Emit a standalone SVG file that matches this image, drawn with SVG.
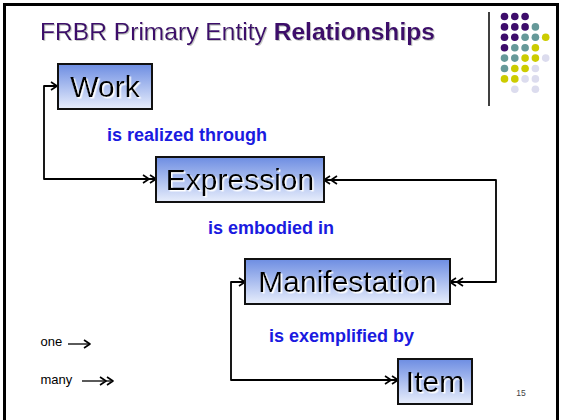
<svg xmlns="http://www.w3.org/2000/svg" width="561" height="420" viewBox="0 0 561 420">
<style>
.node rect{fill:url(#g);stroke:#111;stroke-width:2}
.node text{font-family:"Liberation Sans",Arial,sans-serif;font-size:30px;fill:#000;text-anchor:middle;filter:url(#ws)}
.lbl{font-family:"Liberation Sans",Arial,sans-serif;font-size:18px;font-weight:bold;fill:#1a1ae0}
.conn path{fill:none;stroke:#000;stroke-width:1.8;stroke-linejoin:round}
.conn path.lg{stroke-width:1.3}
.leg{font-family:"Liberation Sans",Arial,sans-serif;font-size:13px;fill:#000}
.p{fill:#3d0c6b}.t{fill:#669999}.y{fill:#cccc00}.l{fill:#dcdcee}
</style>
<defs>
<linearGradient id="g" x1="0" y1="0" x2="0" y2="1">
<stop offset="0" stop-color="#6d8de2"/>
<stop offset="1" stop-color="#e8eefc"/>
</linearGradient>
<filter id="ws" x="-10%" y="-10%" width="130%" height="130%">
<feDropShadow dx="1.5" dy="1.5" stdDeviation="0.3" flood-color="#fff" flood-opacity="1"/>
</filter>
<filter id="ts" x="-5%" y="-10%" width="110%" height="130%">
<feDropShadow dx="1" dy="1" stdDeviation="0.4" flood-color="#bbb" flood-opacity="0.8"/>
</filter>
<marker id="one" markerUnits="userSpaceOnUse" markerWidth="16" markerHeight="12" viewBox="-14 -6 16 12" refX="0" refY="0" orient="auto-start-reverse" overflow="visible">
<path d="M-6,-4 L0,0 L-6,4" fill="none" stroke="#000" stroke-width="1.6" stroke-linejoin="round"/>
</marker>
<marker id="many" markerUnits="userSpaceOnUse" markerWidth="16" markerHeight="12" viewBox="-14 -6 16 12" refX="0" refY="0" orient="auto-start-reverse" overflow="visible">
<path d="M-6,-4 L0,0 L-6,4 M-13,-4 L-7,0 L-13,4" fill="none" stroke="#000" stroke-width="1.6" stroke-linejoin="round"/>
</marker>
</defs>
<rect x="0" y="0" width="561" height="420" fill="#fff"/>
<rect x="4.5" y="4.5" width="553" height="430" fill="none" stroke="#000" stroke-width="3"/>
<text x="40" y="39.5" font-family="'Liberation Sans',Arial,sans-serif" font-size="24.6" fill="#3d0c6b" filter="url(#ts)">FRBR Primary Entity <tspan font-weight="bold">Relationships</tspan></text>
<g id="deco">
<line x1="489" y1="12" x2="489" y2="106" stroke="#000" stroke-width="1.5"/>
<circle class="p" cx="504.5" cy="16.5" r="3.8"/><circle class="p" cx="514.8" cy="16.5" r="3.8"/><circle class="p" cx="525.1" cy="16.5" r="3.8"/>
<circle class="p" cx="504.5" cy="26.9" r="3.8"/><circle class="p" cx="514.8" cy="26.9" r="3.8"/><circle class="p" cx="525.1" cy="26.9" r="3.8"/><circle class="t" cx="535.4" cy="26.9" r="3.8"/>
<circle class="p" cx="504.5" cy="37.3" r="3.8"/><circle class="p" cx="514.8" cy="37.3" r="3.8"/><circle class="t" cx="525.1" cy="37.3" r="3.8"/><circle class="t" cx="535.4" cy="37.3" r="3.8"/><circle class="y" cx="545.7" cy="37.3" r="3.8"/>
<circle class="p" cx="504.5" cy="47.7" r="3.8"/><circle class="t" cx="514.8" cy="47.7" r="3.8"/><circle class="t" cx="525.1" cy="47.7" r="3.8"/><circle class="y" cx="535.4" cy="47.7" r="3.8"/>
<circle class="t" cx="504.5" cy="58.1" r="3.8"/><circle class="t" cx="514.8" cy="58.1" r="3.8"/><circle class="y" cx="525.1" cy="58.1" r="3.8"/><circle class="y" cx="535.4" cy="58.1" r="3.8"/><circle class="l" cx="545.7" cy="58.1" r="3.8"/>
<circle class="t" cx="504.5" cy="68.5" r="3.8"/><circle class="y" cx="514.8" cy="68.5" r="3.8"/><circle class="y" cx="525.1" cy="68.5" r="3.8"/><circle class="l" cx="535.4" cy="68.5" r="3.8"/>
<circle class="y" cx="504.5" cy="78.9" r="3.8"/><circle class="y" cx="514.8" cy="78.9" r="3.8"/><circle class="l" cx="525.1" cy="78.9" r="3.8"/><circle class="l" cx="535.4" cy="78.9" r="3.8"/>
<circle class="l" cx="514.8" cy="89.3" r="3.8"/><circle class="l" cx="535.4" cy="89.3" r="3.8"/>
</g>
<g id="connectors" class="conn">
<path d="M57,86 H44 V179 H156" marker-start="url(#one)" marker-end="url(#many)"/>
<path d="M324,180 H496 V282 H450" marker-start="url(#many)" marker-end="url(#many)"/>
<path d="M245,282 H231 V380 H398" marker-start="url(#one)" marker-end="url(#many)"/>
<path class="lg" d="M68,344 H90" marker-end="url(#one)"/>
<path class="lg" d="M82,381 H113" marker-end="url(#many)"/>
</g>
<g id="work" class="node"><rect x="58" y="64" width="94" height="45"/><text x="105" y="97">Work</text></g>
<g id="expression" class="node"><rect x="156" y="157" width="168" height="45"/><text x="240" y="190">Expression</text></g>
<g id="manifestation" class="node"><rect x="245" y="259" width="205" height="45"/><text x="347.5" y="292">Manifestation</text></g>
<g id="item" class="node"><rect x="398" y="359" width="74" height="45"/><text x="435" y="392">Item</text></g>
<text class="lbl" x="107" y="141">is realized through</text>
<text class="lbl" x="208" y="234">is embodied in</text>
<text class="lbl" x="269" y="342">is exemplified by</text>
<text class="leg" x="40.5" y="346">one</text>
<text class="leg" x="40.5" y="384">many</text>
<text x="521" y="396" font-family="'Liberation Sans',Arial,sans-serif" font-size="8.5" fill="#444" text-anchor="middle">15</text>
</svg>
